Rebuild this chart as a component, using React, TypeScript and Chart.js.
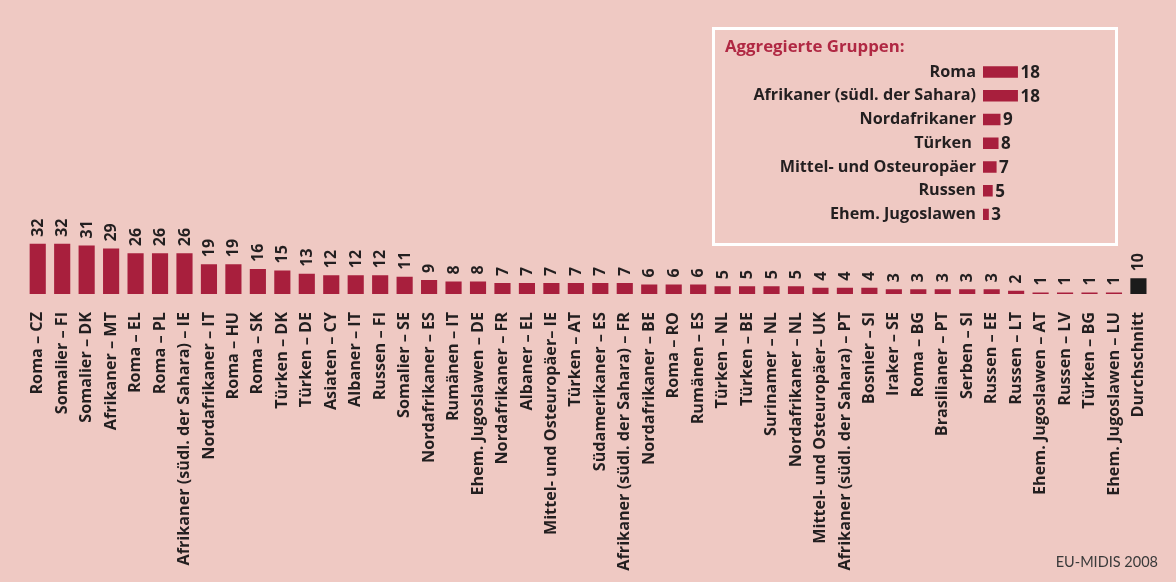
import React, { useEffect, useRef } from "react";
import { Chart, registerables } from "chart.js";

Chart.register(...registerables);

// ---- Data ----
const categories = [
  "Roma – CZ",
  "Somalier – FI",
  "Somalier – DK",
  "Afrikaner – MT",
  "Roma – EL",
  "Roma – PL",
  "Afrikaner (südl. der Sahara) – IE",
  "Nordafrikaner – IT",
  "Roma – HU",
  "Roma – SK",
  "Türken – DK",
  "Türken – DE",
  "Asiaten – CY",
  "Albaner – IT",
  "Russen – FI",
  "Somalier – SE",
  "Nordafrikaner – ES",
  "Rumänen – IT",
  "Ehem. Jugoslawen – DE",
  "Nordafrikaner – FR",
  "Albaner – EL",
  "Mittel- und Osteuropäer– IE",
  "Türken – AT",
  "Südamerikaner – ES",
  "Afrikaner (südl. der Sahara) – FR",
  "Nordafrikaner – BE",
  "Roma – RO",
  "Rumänen – ES",
  "Türken – NL",
  "Türken – BE",
  "Surinamer – NL",
  "Nordafrikaner – NL",
  "Mittel- und Osteuropäer– UK",
  "Afrikaner (südl. der Sahara) – PT",
  "Bosnier – SI",
  "Iraker – SE",
  "Roma – BG",
  "Brasilianer – PT",
  "Serben – SI",
  "Russen – EE",
  "Russen – LT",
  "Ehem. Jugoslawen – AT",
  "Russen – LV",
  "Türken – BG",
  "Ehem. Jugoslawen – LU",
  "Durchschnitt",
];

const values = [
  32, 32, 31, 29, 26, 26, 26, 19, 19, 16, 15, 13, 12, 12, 12, 11, 9, 8, 8, 7,
  7, 7, 7, 7, 7, 6, 6, 6, 5, 5, 5, 5, 4, 4, 4, 3, 3, 3, 3, 3, 2, 1, 1, 1, 1,
  10,
];

const averageLabel = "Durchschnitt";

const groupTitle = "Aggregierte Gruppen:";
const groupLabels = [
  "Roma",
  "Afrikaner (südl. der Sahara)",
  "Nordafrikaner",
  "Türken ",
  "Mittel- und Osteuropäer",
  "Russen",
  "Ehem. Jugoslawen",
];
const groupValues = [18, 18, 9, 8, 7, 5, 3];

const sourceText = "EU-MIDIS 2008";

// ---- Styles ----
const BG = "#efc9c3";
const BAR = "#a81f3d";
const AVG = "#1b1b1b";
const TEXT = "#231f20";
const TITLE = "#b02843";
const FONT = "'Open Sans', Lato, sans-serif";

const W = 1176;
const H = 582;
const BASELINE = 294;

const mainValueLabels = {
  id: "mainValueLabels",
  afterDatasetsDraw(chart: any) {
    const ctx = chart.ctx;
    const meta = chart.getDatasetMeta(0);
    const data = chart.data.datasets[0].data;
    ctx.save();
    ctx.font = `bold 16px ${FONT}`;
    ctx.fillStyle = TEXT;
    ctx.textAlign = "left";
    ctx.textBaseline = "middle";
    meta.data.forEach((bar: any, i: number) => {
      ctx.save();
      ctx.translate(bar.x + 0.5, bar.y - 7);
      ctx.rotate(-Math.PI / 2);
      ctx.fillText(String(data[i]), 0, 0);
      ctx.restore();
    });
    ctx.restore();
  },
};

const insetValueLabels = {
  id: "insetValueLabels",
  afterDatasetsDraw(chart: any) {
    const ctx = chart.ctx;
    const meta = chart.getDatasetMeta(0);
    const data = chart.data.datasets[0].data;
    ctx.save();
    ctx.font = `bold 17px ${FONT}`;
    ctx.fillStyle = TEXT;
    ctx.textAlign = "left";
    ctx.textBaseline = "middle";
    meta.data.forEach((bar: any, i: number) => {
      ctx.fillText(String(data[i]), bar.x + 2.5, bar.y + 1);
    });
    ctx.restore();
  },
};

export default function App() {
  const mainRef = useRef<HTMLCanvasElement | null>(null);
  const insetRef = useRef<HTMLCanvasElement | null>(null);

  useEffect(() => {
    document.body.style.margin = "0";
    document.body.style.overflow = "hidden";

    const main = new Chart(mainRef.current as HTMLCanvasElement, {
      type: "bar",
      data: {
        labels: categories,
        datasets: [
          {
            data: values,
            backgroundColor: categories.map((c) => (c === averageLabel ? AVG : BAR)),
            borderWidth: 0,
            barPercentage: 0.66,
            categoryPercentage: 1,
          },
        ],
      },
      options: {
        responsive: false,
        animation: false,
        events: [],
        layout: { padding: { left: 25.5, right: 11.5, top: 200, bottom: 0 } },
        plugins: {
          legend: { display: false },
          tooltip: { enabled: false },
          title: { display: false },
        },
        scales: {
          x: {
            type: "category",
            offset: true,
            grid: { display: false, drawTicks: false },
            border: { display: false },
            ticks: {
              autoSkip: false,
              maxRotation: 90,
              minRotation: 90,
              padding: 18,
              color: TEXT,
              font: { family: FONT, size: 16.2, weight: "bold" },
            },
            afterFit: (s: any) => {
              s.height = H - BASELINE;
            },
          },
          y: {
            display: false,
            min: 0,
            max: 60,
          },
        },
      },
      plugins: [mainValueLabels],
    } as any);

    const inset = new Chart(insetRef.current as HTMLCanvasElement, {
      type: "bar",
      data: {
        labels: groupLabels,
        datasets: [
          {
            data: groupValues,
            backgroundColor: BAR,
            borderWidth: 0,
            barPercentage: 0.48,
            categoryPercentage: 1,
          },
        ],
      },
      options: {
        indexAxis: "y",
        responsive: false,
        animation: false,
        events: [],
        layout: { padding: { left: 10, right: 0, top: 0, bottom: 9.6 } },
        plugins: {
          legend: { display: false },
          tooltip: { enabled: false },
          title: {
            display: true,
            text: groupTitle,
            align: "start",
            color: TITLE,
            font: { family: FONT, size: 16.8, weight: "bold" },
            padding: { top: 7, bottom: 3 },
          },
        },
        scales: {
          y: {
            type: "category",
            grid: { display: false, drawTicks: false },
            border: { display: false },
            ticks: {
              padding: 7,
              color: TEXT,
              font: { family: FONT, size: 16.2, weight: "bold" },
            },
            afterFit: (s: any) => {
              s.width = 983 - 715 - 10;
            },
          },
          x: {
            display: false,
            min: 0,
            max: 68,
          },
        },
      },
      plugins: [insetValueLabels],
    } as any);

    return () => {
      main.destroy();
      inset.destroy();
    };
  }, []);

  return (
    <div
      style={{
        position: "absolute",
        left: 0,
        top: 0,
        width: W,
        height: H,
        background: BG,
        overflow: "hidden",
      }}
    >
      <canvas
        ref={mainRef}
        width={W}
        height={H}
        style={{ position: "absolute", left: 0, top: 0, width: W, height: H }}
      />
      <div
        style={{
          position: "absolute",
          left: 712,
          top: 27,
          width: 406,
          height: 219,
          boxSizing: "border-box",
          border: "3px solid #ffffff",
        }}
      >
        <canvas
          ref={insetRef}
          width={400}
          height={213}
          style={{ position: "absolute", left: 0, top: 0, width: 400, height: 213 }}
        />
      </div>
      <div
        style={{
          position: "absolute",
          right: 18,
          top: 552,
          fontFamily: "Lato, sans-serif",
          fontSize: 14.5,
          color: "#3a3a3a",
          lineHeight: "20px",
        }}
      >
        {sourceText}
      </div>
    </div>
  );
}
